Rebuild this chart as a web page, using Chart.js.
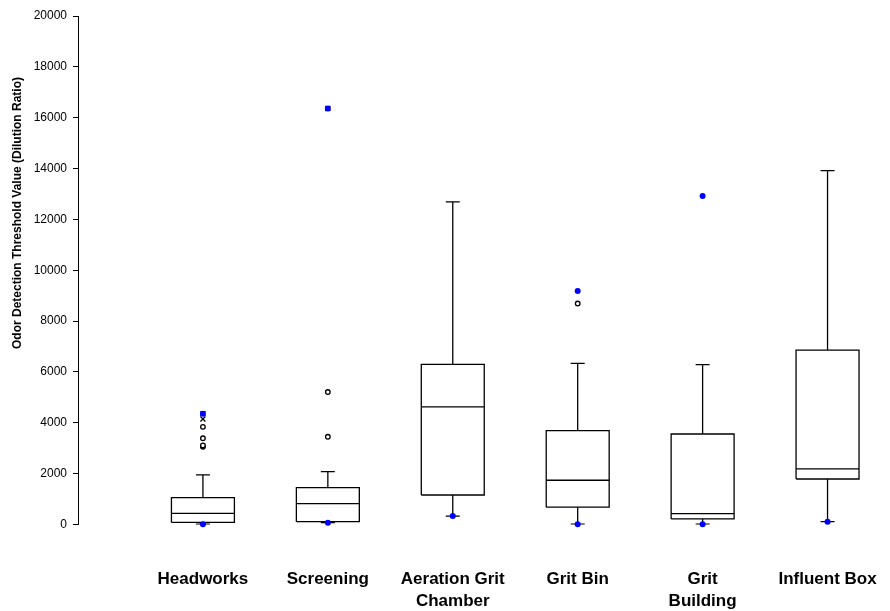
<!DOCTYPE html>
<html>
<head>
<meta charset="utf-8">
<title>Odor Detection Threshold Value</title>
<script src="https://cdn.jsdelivr.net/npm/chart.js@4.4.1/dist/chart.umd.min.js"></script>
<style>
    html, body { margin: 0; padding: 0; background: #ffffff; }
    #wrap { position: relative; width: 890px; height: 611px; }
</style>
</head>
<body>
<div id="wrap"><canvas id="odorChart"></canvas></div>
<script>
// Données
const categories = ['Headworks', 'Screening', ['Aeration Grit', 'Chamber'], 'Grit Bin', ['Grit', 'Building'], 'Influent Box'];
const whiskerLow = [10, 70, 330, 10, 10, 110];
const quartile1 = [80, 110, 1160, 680, 220, 1790];
const medians = [440, 820, 4630, 1740, 430, 2190];
const quartile3 = [1060, 1450, 6300, 3690, 3560, 6860];
const whiskerHigh = [1950, 2080, 12690, 6340, 6290, 13920];
const openOutliers = [[3060, 3110, 3390, 3840], [3450, 5210], [], [8690], [], []];
const crossOutliers = [[4150, 4360], [16360], [], [], [], []];
const maxOutliers = [[4360], [16360], [], [9180], [12920], []];
const yTicks = [0, 2000, 4000, 6000, 8000, 10000, 12000, 14000, 16000, 18000, 20000];

const FONT = "'Liberation Sans', Arial, sans-serif";
const BOX_HALF = 0.252;
const CAP_HALF = 0.056;

document.addEventListener('DOMContentLoaded', function() {
    initializeChart();
});

function gap(x) {
    return { x: x, y: null };
}

function buildBoxes() {
    const pts = [];
    categories.forEach((c, i) => {
        const x = i + 1;
        pts.push({ x: x - BOX_HALF, y: quartile1[i] }, { x: x + BOX_HALF, y: quartile1[i] },
            { x: x + BOX_HALF, y: quartile3[i] }, { x: x - BOX_HALF, y: quartile3[i] },
            { x: x - BOX_HALF, y: quartile1[i] }, gap(x));
    });
    return pts;
}

function buildMedians() {
    const pts = [];
    categories.forEach((c, i) => {
        const x = i + 1;
        pts.push({ x: x - BOX_HALF, y: medians[i] }, { x: x + BOX_HALF, y: medians[i] }, gap(x));
    });
    return pts;
}

function buildWhiskers() {
    const pts = [];
    categories.forEach((c, i) => {
        const x = i + 1;
        pts.push({ x: x, y: quartile3[i] }, { x: x, y: whiskerHigh[i] }, gap(x));
        pts.push({ x: x, y: quartile1[i] }, { x: x, y: whiskerLow[i] }, gap(x));
        pts.push({ x: x - CAP_HALF, y: whiskerHigh[i] }, { x: x + CAP_HALF, y: whiskerHigh[i] }, gap(x));
        pts.push({ x: x - CAP_HALF, y: whiskerLow[i] }, { x: x + CAP_HALF, y: whiskerLow[i] }, gap(x));
    });
    return pts;
}

function toPoints(groups) {
    const pts = [];
    groups.forEach((vals, i) => vals.forEach(v => pts.push({ x: i + 1, y: v })));
    return pts;
}

// Titre de l'axe Y, placé comme sur l'original
const yTitlePlugin = {
    id: 'yTitle',
    afterDraw(chart) {
        const ctx = chart.ctx;
        ctx.save();
        ctx.translate(18, 213);
        ctx.rotate(-Math.PI / 2);
        ctx.font = 'bold 12px ' + FONT;
        ctx.fillStyle = '#000';
        ctx.textAlign = 'center';
        ctx.textBaseline = 'middle';
        ctx.fillText('Odor Detection Threshold Value (Dilution Ratio)', 0, 0);
        ctx.restore();
    }
};

function initializeChart() {
    const ctx = document.getElementById('odorChart').getContext('2d');
    const lineStyle = { showLine: true, borderColor: '#000', borderWidth: 1.3, pointRadius: 0, spanGaps: false, fill: false };
    new Chart(ctx, {
        type: 'scatter',
        data: {
            datasets: [
                { label: 'max', data: toPoints(maxOutliers).concat(whiskerLow.map((v, i) => ({ x: i + 1, y: v }))),
                  pointStyle: 'circle', pointRadius: 3, backgroundColor: '#0000ff', borderColor: '#0000ff', borderWidth: 0, clip: false, order: 0 },
                { label: 'cross', data: toPoints(crossOutliers), pointStyle: 'crossRot', pointRadius: 3.5,
                  borderColor: '#000', borderWidth: 1.3, clip: false, order: 1 },
                { label: 'out', data: toPoints(openOutliers), pointStyle: 'circle', pointRadius: 2.3,
                  backgroundColor: '#fff', borderColor: '#000', borderWidth: 1.3, clip: false, order: 2 },
                Object.assign({ label: 'box', data: buildBoxes(), order: 3 }, lineStyle),
                Object.assign({ label: 'median', data: buildMedians(), order: 4 }, lineStyle),
                Object.assign({ label: 'whisker', data: buildWhiskers(), order: 5 }, lineStyle)
            ]
        },
        options: {
            responsive: true,
            maintainAspectRatio: false,
            animation: false,
            events: [],
            layout: { autoPadding: false, padding: { top: 16, right: 0, bottom: 0, left: 0 } },
            plugins: {
                legend: { display: false },
                tooltip: { enabled: false }
            },
            scales: {
                x: {
                    type: 'linear',
                    min: 0,
                    max: 6.5,
                    grid: { display: false, drawTicks: false },
                    border: { display: false },
                    afterBuildTicks: function(scale) {
                        scale.ticks = categories.map((c, i) => ({ value: i + 1 }));
                    },
                    afterFit: function(scale) {
                        scale.height = 86.5;
                        scale.paddingLeft = 0;
                        scale.paddingRight = 0;
                    },
                    ticks: {
                        autoSkip: false,
                        maxRotation: 0,
                        padding: 44,
                        color: '#000',
                        font: { family: FONT, size: 17, weight: 'bold', lineHeight: 1.3 },
                        callback: function(value) { return categories[value - 1]; }
                    }
                },
                y: {
                    min: 0,
                    max: 20000,
                    afterBuildTicks: function(scale) {
                        scale.ticks = yTicks.map(v => ({ value: v }));
                    },
                    afterFit: function(scale) { scale.width = 78; },
                    grid: { display: true, drawOnChartArea: false, drawTicks: true, tickLength: 5, color: '#000', lineWidth: 1 },
                    border: { display: true, color: '#000', width: 1 },
                    ticks: {
                        padding: 6,
                        color: '#000',
                        font: { family: FONT, size: 12 },
                        callback: function(value) { return String(value); }
                    }
                }
            }
        },
        plugins: [yTitlePlugin]
    });
}
</script>
</body>
</html>
